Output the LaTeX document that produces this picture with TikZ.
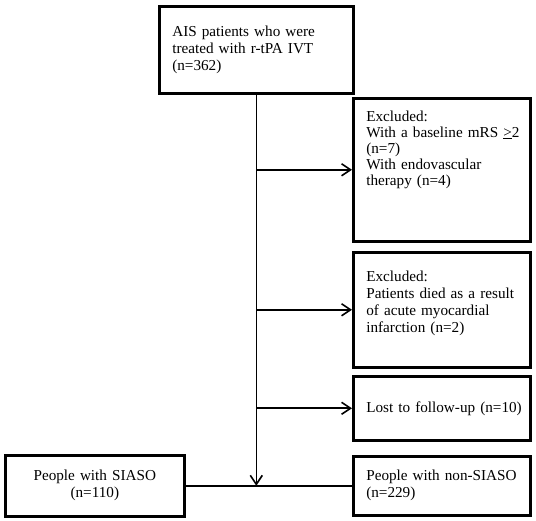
\documentclass[tikz,border=0pt]{standalone}
\usepackage{fontspec}
\setmainfont{Liberation Serif}
\usetikzlibrary{arrows.meta}

\begin{document}
\begin{tikzpicture}[x=1pt,y=-1pt,
  box/.style={draw, line width=2.6pt, anchor=north west, inner xsep=13pt, inner ysep=5pt,
    align=left, font=\fontsize{15.2pt}{17pt}\selectfont},
  link/.style={line width=1.6pt},
  arr/.style={link, -{Straight Barb[length=9pt,width=12pt]}}]
\useasboundingbox (0,0) rectangle (536,521);

\node[box, text width=168pt, minimum height=87pt] (top) at (158,5)
  {AIS patients who were\\treated with r-tPA IVT\\(n=362)};
\node[box, text width=151pt, text height=18pt, text depth=115pt,
  font=\fontsize{15.2pt}{16pt}\selectfont] (ex1) at (352,97)
  {Excluded:\\\mbox{With a baseline mRS \underline{>}2}\\(n=7)\\With endovascular\\therapy (n=4)};
\node[box, text width=151pt, text height=24pt, text depth=81pt] (ex2) at (352,251)
  {Excluded:\\Patients died as a result\\of acute myocardial\\infarction (n=2)};
\node[box, text width=151pt, minimum height=64pt] (lost) at (352,375)
  {\mbox{Lost to follow-up (n=10)}};
\node[box, text width=151pt, minimum height=59pt] (non) at (352,455)
  {People with non-SIASO\\(n=229)};
\node[box, text width=153pt, minimum height=61pt, align=center] (siaso) at (4,454)
  {People with SIASO\\(n=110)};

\draw[arr] (top.south) -- (top.south |- siaso.east);
\draw[arr] (top.south |- ex1.west) -- (ex1.west);
\draw[arr] (top.south |- ex2.west) -- (ex2.west);
\draw[arr] (top.south |- lost.west) -- (lost.west);
\draw[link] (siaso.east) -- (non.west);
\end{tikzpicture}
\end{document}
